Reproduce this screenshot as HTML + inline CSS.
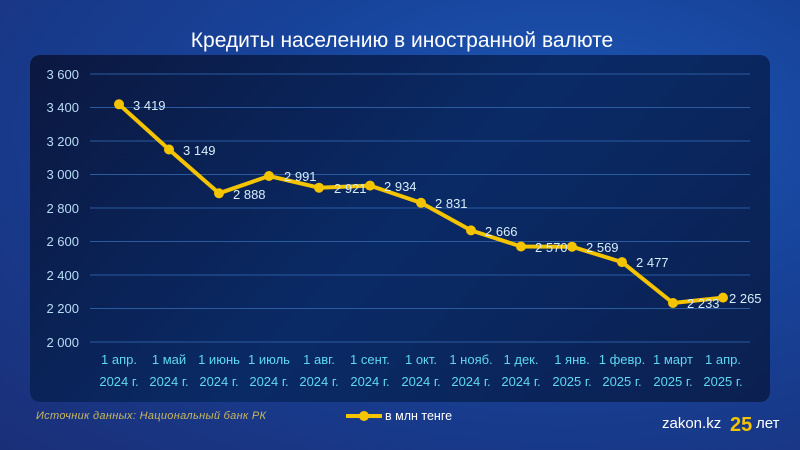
<!DOCTYPE html><html><head><meta charset="utf-8"><style>
body{margin:0;width:800px;height:450px;overflow:hidden;font-family:"Liberation Sans",sans-serif;}
.bg{position:absolute;inset:0;background:radial-gradient(ellipse at 70% 30%,#1d58b8 0%,#17439a 40%,#1a2f78 100%);}
.panel{position:absolute;left:30px;top:55px;width:740px;height:347px;border-radius:10px;background:linear-gradient(135deg,#0b1840 0%,#0a2a66 50%,#0b2050 100%);}
</style></head><body>
<div class="bg"></div><div class="panel"></div>
<svg width="800" height="450" style="position:absolute;left:0;top:0" font-family="Liberation Sans, sans-serif">
<text x="402" y="47" fill="#fff" font-size="21" text-anchor="middle">Кредиты населению в иностранной валюте</text>
<g stroke="#2a5aa0" stroke-width="1">
<line x1="90" x2="750" y1="74" y2="74"/><line x1="90" x2="750" y1="107.5" y2="107.5"/><line x1="90" x2="750" y1="141" y2="141"/><line x1="90" x2="750" y1="174.5" y2="174.5"/><line x1="90" x2="750" y1="208" y2="208"/><line x1="90" x2="750" y1="241.5" y2="241.5"/><line x1="90" x2="750" y1="275" y2="275"/><line x1="90" x2="750" y1="308.5" y2="308.5"/><line x1="90" x2="750" y1="342" y2="342"/>
</g>
<g fill="#b8dcf5" font-size="13" text-anchor="end">
<text x="79" y="79">3 600</text><text x="79" y="112">3 400</text><text x="79" y="146">3 200</text><text x="79" y="179">3 000</text><text x="79" y="213">2 800</text><text x="79" y="246">2 600</text><text x="79" y="280">2 400</text><text x="79" y="313">2 200</text><text x="79" y="347">2 000</text>
</g>
<polyline fill="none" stroke="#f5c400" stroke-width="4" stroke-linejoin="round" points="119,104.3 169,149.5 219,193.3 269,176 319,187.7 370,185.6 421,202.8 471,230.4 521,246.5 572,246.7 622,262.1 673,303 723,297.6"/>
<g fill="#f5c400">
<circle cx="119" cy="104.3" r="5"/><circle cx="169" cy="149.5" r="5"/><circle cx="219" cy="193.3" r="5"/><circle cx="269" cy="176" r="5"/><circle cx="319" cy="187.7" r="5"/><circle cx="370" cy="185.6" r="5"/><circle cx="421" cy="202.8" r="5"/><circle cx="471" cy="230.4" r="5"/><circle cx="521" cy="246.5" r="5"/><circle cx="572" cy="246.7" r="5"/><circle cx="622" cy="262.1" r="5"/><circle cx="673" cy="303" r="5"/><circle cx="723" cy="297.6" r="5"/>
</g>
<g fill="#d6ecfa" font-size="13">
<text x="133" y="110">3 419</text><text x="183" y="155">3 149</text><text x="233" y="199">2 888</text><text x="284" y="181">2 991</text><text x="334" y="193">2 921</text><text x="384" y="191">2 934</text><text x="435" y="208">2 831</text><text x="485" y="236">2 666</text><text x="535" y="252">2 570</text><text x="586" y="252">2 569</text><text x="636" y="267">2 477</text><text x="687" y="308">2 233</text><text x="729" y="303">2 265</text>
</g>
<g fill="#5fd8f2" font-size="13" text-anchor="middle">
<text x="119" y="364">1 апр.</text><text x="169" y="364">1 май</text><text x="219" y="364">1 июнь</text><text x="269" y="364">1 июль</text><text x="319" y="364">1 авг.</text><text x="370" y="364">1 сент.</text><text x="421" y="364">1 окт.</text><text x="471" y="364">1 нояб.</text><text x="521" y="364">1 дек.</text><text x="572" y="364">1 янв.</text><text x="622" y="364">1 февр.</text><text x="673" y="364">1 март</text><text x="723" y="364">1 апр.</text>
<text x="119" y="386">2024 г.</text><text x="169" y="386">2024 г.</text><text x="219" y="386">2024 г.</text><text x="269" y="386">2024 г.</text><text x="319" y="386">2024 г.</text><text x="370" y="386">2024 г.</text><text x="421" y="386">2024 г.</text><text x="471" y="386">2024 г.</text><text x="521" y="386">2024 г.</text><text x="572" y="386">2025 г.</text><text x="622" y="386">2025 г.</text><text x="673" y="386">2025 г.</text><text x="723" y="386">2025 г.</text>
</g>
<text x="36" y="419" fill="#c8b860" font-size="11" font-style="italic" textLength="230">Источник данных: Национальный банк РК</text>
<line x1="346" y1="416" x2="382" y2="416" stroke="#f5c400" stroke-width="4"/><circle cx="364" cy="416" r="5" fill="#f5c400"/>
<text x="385" y="420" fill="#fff" font-size="12.5">в млн тенге</text>
<text x="662" y="428" fill="#fff" font-size="15">zakon.kz</text>
<text x="730" y="431" fill="#f5c400" font-size="20" font-weight="bold">25</text>
<text x="756" y="428" fill="#fff" font-size="15">лет</text>
</svg>
</body></html>
